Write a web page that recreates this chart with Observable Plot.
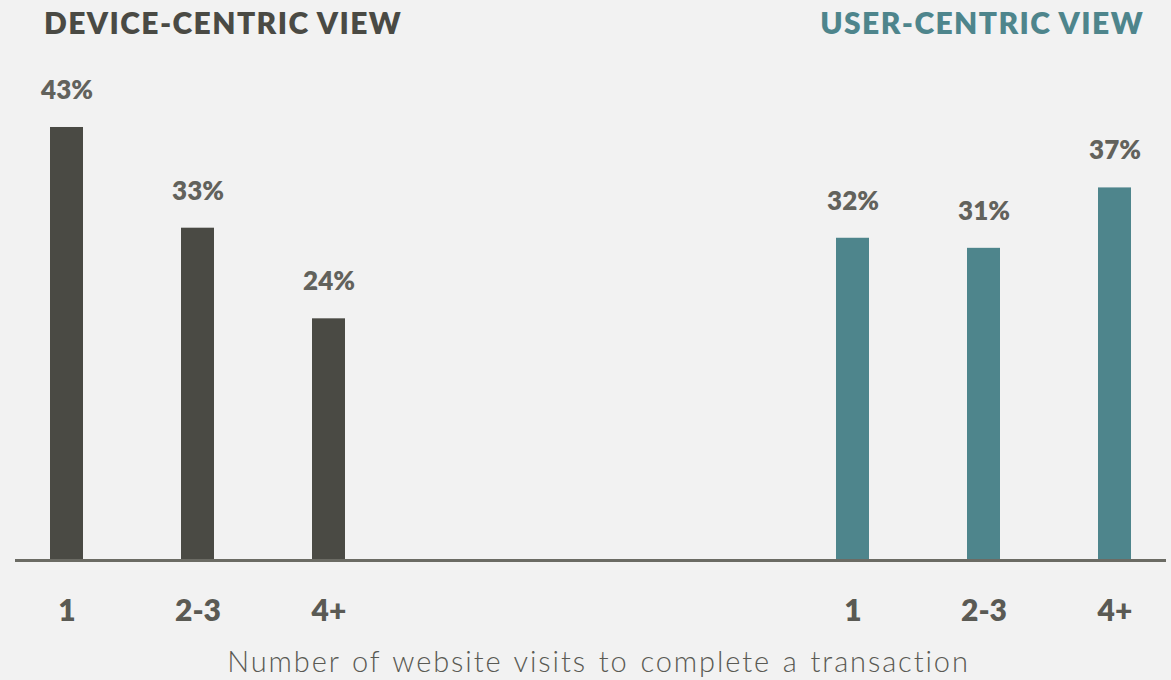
<!DOCTYPE html>
<html>
<head>
<meta charset="utf-8">
<script src="https://cdn.jsdelivr.net/npm/d3@7"></script>
<script src="https://cdn.jsdelivr.net/npm/@observablehq/plot@0.6"></script>
<style>
  html, body { margin: 0; padding: 0; background: #f2f2f2; }
  #wrap { position: relative; width: 1171px; height: 680px; overflow: hidden; font-family: Lato, "Open Sans", sans-serif; }
  .title { position: absolute; top: 7px; font-size: 30px; line-height: 30px; font-weight: 800; letter-spacing: 1.4px; white-space: nowrap; }
  #t1 { left: 44px; color: #4a4a44; }
  #t2 { right: 27px; color: #4e858c; }
  #chart { position: absolute; left: 0; top: 50px; }
  #caption { position: absolute; left: 13px; width: 1171px; top: 646px; text-align: center; font-size: 29px; line-height: 29px; font-weight: 300; color: #5a5a54; letter-spacing: 1.9px; word-spacing: 2px; white-space: nowrap; }
</style>
</head>
<body>
<div id="wrap">
  <div class="title" id="t1"></div>
  <div class="title" id="t2"></div>
  <div id="chart"></div>
  <div id="caption"></div>
</div>
<script>
const groups = ["DEVICE-CENTRIC VIEW", "USER-CENTRIC VIEW"];
const categories = ["1", "2-3", "4+"];
const deviceValues = [43, 33, 24];
const userValues = [32, 31, 37];
const groupColors = ["#4a4a44", "#4e858c"];
const axisTitle = "Number of website visits to complete a transaction";

document.getElementById("t1").textContent = groups[0];
document.getElementById("t2").textContent = groups[1];
document.getElementById("caption").textContent = axisTitle;

const data = [
  ...categories.map((c, i) => ({group: groups[0], key: "D" + c, cat: c, value: deviceValues[i]})),
  ...categories.map((c, i) => ({group: groups[1], key: "U" + c, cat: c, value: userValues[i]}))
];
const spacers = ["gap1", "gap2", "gap3"];
const xDomain = [...data.slice(0, 3).map(d => d.key), ...spacers, ...data.slice(3).map(d => d.key)];
const labelOf = new Map(data.map(d => [d.key, d.cat]));

const chart = Plot.plot({
  width: 1171,
  height: 630,
  marginLeft: 15,
  marginRight: 5,
  marginTop: 6.5,
  marginBottom: 120,
  style: {background: "transparent", fontFamily: "Lato, 'Open Sans', sans-serif"},
  x: {type: "band", domain: xDomain, paddingInner: 0.745, paddingOuter: 0.25, axis: null},
  y: {domain: [0, 50], axis: null},
  color: {domain: groups, range: groupColors},
  marks: [
    Plot.barY(data, {x: "key", y: "value", fill: "group"}),
    Plot.ruleY([0], {stroke: "#6b6b64", strokeWidth: 3}),
    Plot.text(data, {x: "key", y: "value", text: d => d.value + "%", dy: -37, lineAnchor: "middle",
      fill: "#62625c", fontSize: 26, fontWeight: 800}),
    Plot.axisX(data.map(d => d.key), {tickSize: 0, tickPadding: 39, tickFormat: k => labelOf.get(k),
      fontSize: 30, fontWeight: 800, fill: "#5a5a54", label: null})
  ]
});
document.getElementById("chart").appendChild(chart);
</script>
</body>
</html>
